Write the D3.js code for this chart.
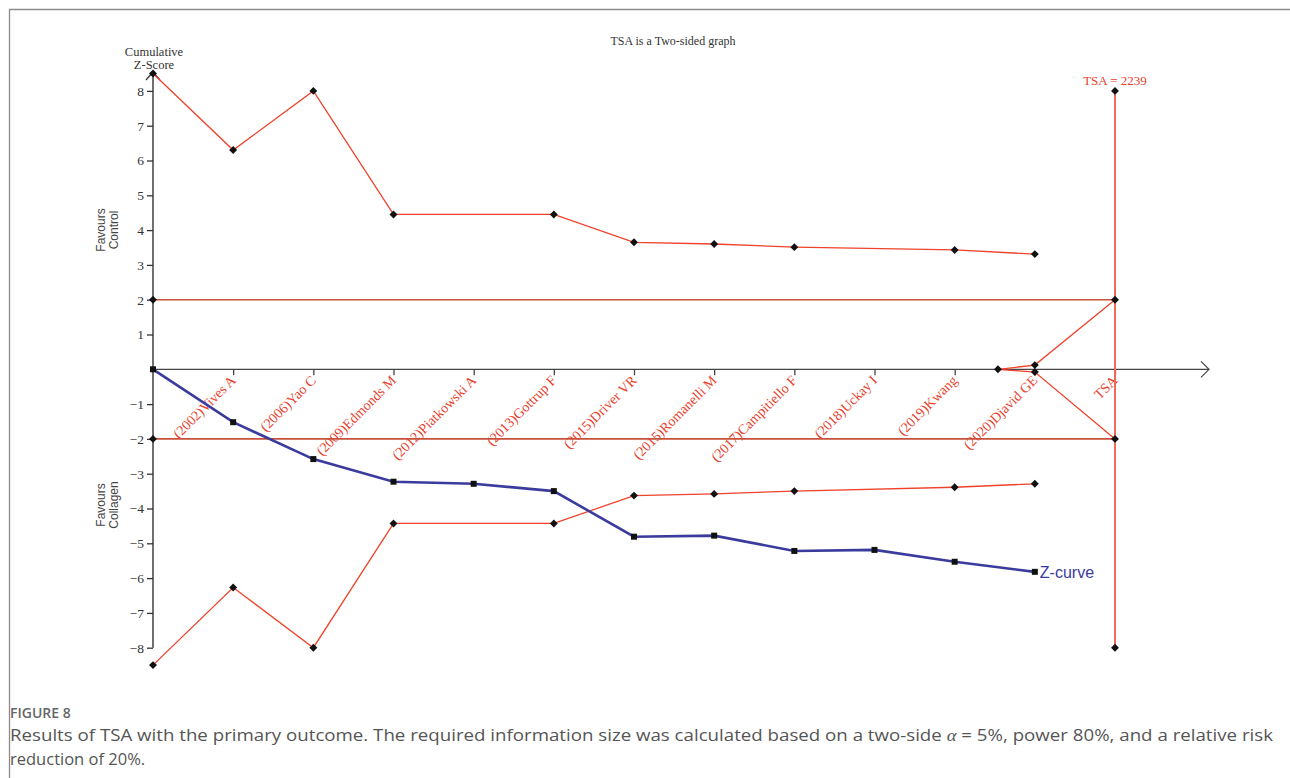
<!DOCTYPE html>
<html><head><meta charset="utf-8">
<script src="https://cdn.jsdelivr.net/npm/d3@7"></script>
<style>body{margin:0;background:#fff}svg{display:block}</style>
</head><body>
<svg id="c" width="1290" height="778"></svg>
<script>
// ---- data ----
const studies = ["(2002)Vives A","(2006)Yao C","(2009)Edmonds M","(2012)Piatkowski A","(2013)Gottrup F","(2015)Driver VR","(2015)Romanelli M","(2017)Campitiello F","(2018)Uckay I","(2019)Kwang","(2020)Djavid GE","TSA"];
const yTicks = [-8,-7,-6,-5,-4,-3,-2,-1,1,2,3,4,5,6,7,8];
const boundIdx = [0,1,2,3,5,6,7,8,10,11];
const upperBound = [8.5,6.3,8.0,4.45,4.45,3.65,3.6,3.51,3.43,3.31];
const lowerBound = [-8.5,-6.27,-8.0,-4.43,-4.43,-3.63,-3.58,-3.5,-3.39,-3.29];
const zIdx = [0,1,2,3,4,5,6,7,8,9,10,11];
const zCurve = [0,-1.52,-2.58,-3.23,-3.29,-3.5,-4.81,-4.78,-5.22,-5.19,-5.53,-5.82];
const futIdx = [10.54,11,12];
const futUpper = [0,0.12,2];
const futLower = [0,-0.08,-2];
const tsaIdx = 12, tsaValues = [8,2,-2,-8];
const conventional = [2,-2];
const tsaLabel = "TSA = 2239";

const svg = d3.select("#c");
const x = d3.scaleLinear().domain([0,12]).range([153,1115]);
const y = d3.scaleLinear().domain([-8,8]).range([647.7,90.9]);
const serif = "'Liberation Serif','Times New Roman',serif";
const sans = "'Liberation Sans',Arial,sans-serif";

// frame
svg.append("path").attr("d","M9.5,778V9.5H1290").attr("fill","none").attr("stroke","#8a8a8a").attr("stroke-width",1.3);

// title
svg.append("text").attr("x",673).attr("y",45).attr("text-anchor","middle").attr("font-family",serif).attr("font-size",12).attr("fill","#333").text("TSA is a Two-sided graph");

// y axis
const yAxis = d3.axisLeft(y).tickValues(yTicks).tickSize(6).tickPadding(3).tickFormat(d=>d<0?"\u2212"+(-d):d);
const gy = svg.append("g").attr("transform","translate(153,0)").call(yAxis);
gy.select(".domain").remove();
gy.selectAll("line").attr("stroke","#333").attr("stroke-width",1.3);
gy.selectAll("text").attr("font-family",serif).attr("font-size",13.5).attr("fill","#333");
svg.append("line").attr("x1",153).attr("x2",153).attr("y1",y(-8)).attr("y2",73).attr("stroke","#333").attr("stroke-width",1.4);
svg.append("path").attr("d","M146,80L153,72L160,80").attr("fill","none").attr("stroke","#333").attr("stroke-width",1.2);

// y labels
svg.append("text").attr("x",154).attr("y",56).attr("text-anchor","middle").attr("font-family",serif).attr("font-size",12.5).attr("fill","#333").text("Cumulative");
svg.append("text").attr("x",154).attr("y",69).attr("text-anchor","middle").attr("font-family",serif).attr("font-size",12.5).attr("fill","#333").text("Z-Score");
function sideLabel(cy,l1,l2){
  const g=svg.append("g").attr("transform",`translate(105,${cy}) rotate(-90)`);
  g.append("text").attr("x",0).attr("y",0).attr("text-anchor","middle").attr("font-family",sans).attr("font-size",12).attr("fill","#444").text(l1);
  g.append("text").attr("x",0).attr("y",13).attr("text-anchor","middle").attr("font-family",sans).attr("font-size",12).attr("fill","#444").text(l2);
}
sideLabel(230,"Favours","Control");
sideLabel(505,"Favours","Collagen");

// x axis
const xAxis = d3.axisBottom(x).tickValues(d3.range(1,13)).tickSize(6).tickFormat(d=>studies[d-1]);
const gx = svg.append("g").attr("transform",`translate(0,${y(0)})`).call(xAxis);
gx.select(".domain").remove();
gx.selectAll("line").attr("stroke","#444").attr("stroke-width",1.3);
gx.selectAll("text").attr("font-family",serif).attr("font-size",14).attr("fill","#e8412c")
  .attr("text-anchor","end").attr("dy",null).attr("y",0)
  .attr("transform","translate(3,12) rotate(-45)");
svg.append("line").attr("x1",153).attr("x2",1209).attr("y1",y(0)).attr("y2",y(0)).attr("stroke","#444").attr("stroke-width",1.3);
svg.append("path").attr("d",`M1201,${y(0)-8}L1209,${y(0)}L1201,${y(0)+8}`).attr("fill","none").attr("stroke","#444").attr("stroke-width",1.2);

// conventional boundaries
conventional.forEach(v=>{
  svg.append("line").attr("x1",x(0)).attr("x2",x(tsaIdx)).attr("y1",y(v)).attr("y2",y(v)).attr("stroke","#c8503a").attr("stroke-width",1.6);
});

// TSA vertical
svg.append("line").attr("x1",x(tsaIdx)).attr("x2",x(tsaIdx)).attr("y1",y(8)).attr("y2",y(-8)).attr("stroke","#f06a5a").attr("stroke-width",2);
svg.append("text").attr("x",x(tsaIdx)).attr("y",85).attr("text-anchor","middle").attr("font-family",serif).attr("font-size",13).attr("fill","#e8412c").text(tsaLabel);

const line = d3.line().x(d=>x(d[0])).y(d=>y(d[1]));
const redC = "#f0422a";
// futility wedge
svg.append("path").attr("d",line(futIdx.map((d,i)=>[d,futUpper[i]]))).attr("fill","none").attr("stroke",redC).attr("stroke-width",1.3);
svg.append("path").attr("d",line(futIdx.map((d,i)=>[d,futLower[i]]))).attr("fill","none").attr("stroke",redC).attr("stroke-width",1.3);
// monitoring boundaries
const up = boundIdx.map((d,i)=>[d,upperBound[i]]);
const lo = boundIdx.map((d,i)=>[d,lowerBound[i]]);
svg.append("path").attr("d",line(up)).attr("fill","none").attr("stroke",redC).attr("stroke-width",1.3);
svg.append("path").attr("d",line(lo)).attr("fill","none").attr("stroke",redC).attr("stroke-width",1.3);
// z-curve
const zc = zIdx.map((d,i)=>[d,zCurve[i]]);
svg.append("path").attr("d",line(zc)).attr("fill","none").attr("stroke","#3b3b9e").attr("stroke-width",2.6);

// markers
const diamond = d3.symbol().type(d3.symbolDiamond2).size(40);
const dpts = up.concat(lo)
  .concat(conventional.map(v=>[0,v]))
  .concat(tsaValues.map(v=>[tsaIdx,v]))
  .concat([[futIdx[0],0],[futIdx[1],futUpper[1]],[futIdx[1],futLower[1]]]);
svg.append("g").selectAll("path").data(dpts).join("path")
  .attr("d",diamond).attr("transform",d=>`translate(${x(d[0])},${y(d[1])})`).attr("fill","#111");
svg.append("g").selectAll("rect").data(zc).join("rect")
  .attr("x",d=>x(d[0])-3).attr("y",d=>y(d[1])-3).attr("width",6).attr("height",6).attr("fill","#111");

svg.append("text").attr("x",x(11)+5).attr("y",y(zCurve[11])+6).attr("font-family",sans).attr("font-size",16).attr("fill","#3b3b9e").text("Z-curve");

// caption
const capFont = "'Open Sans','Noto Sans',sans-serif";
svg.append("text").attr("x",10).attr("y",718).attr("font-family",capFont).attr("font-size",14).attr("font-weight",600).attr("fill","#666").text("FIGURE 8");
const c1 = svg.append("text").attr("x",10).attr("y",741).attr("font-family",capFont).attr("font-size",16.5).attr("fill","#555");
c1.append("tspan").text("Results of TSA with the primary outcome. The required information size was calculated based on a two-side ");
c1.append("tspan").attr("font-style","italic").attr("font-family",serif).text("\u03b1");
c1.append("tspan").text(" = 5%, power 80%, and a relative risk");
const w = c1.node().getComputedTextLength();
if (w>0) c1.attr("textLength",1263).attr("lengthAdjust","spacingAndGlyphs");
svg.append("text").attr("x",10).attr("y",765).attr("font-family",capFont).attr("font-size",16.5).attr("fill","#555").text("reduction of 20%.");
</script>
</body></html>
